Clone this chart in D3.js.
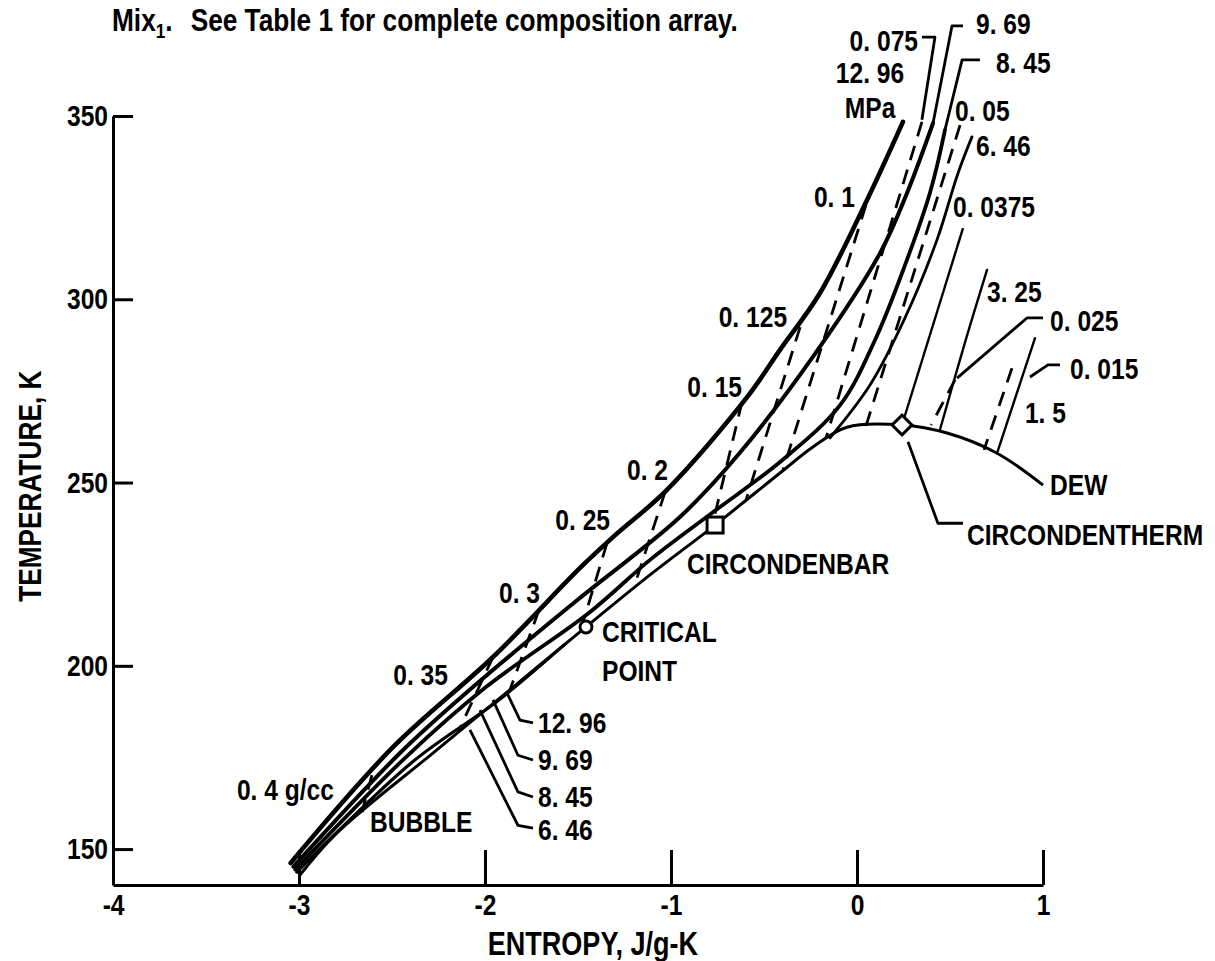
<!DOCTYPE html>
<html>
<head>
<meta charset="utf-8">
<title>Mix1 temperature-entropy diagram</title>
<script src="https://d3js.org/d3.v7.min.js"></script>
<style>
  body { margin: 0; background: #fff; }
  svg text { font-family: "Liberation Sans", Arial, sans-serif; font-weight: bold; font-size: 30px; fill: #000; white-space: pre; }
  svg text:not(.rot) { transform-box: fill-box; transform: scaleX(0.82); }
  .a-start { transform-origin: left center; }
  .a-end { transform-origin: right center; }
  .a-mid { transform-origin: center; }
  .axis path, .axis line { stroke: #000; stroke-width: 3; }
</style>
</head>
<body>
<script>
// axis ticks
var xTicks = [-4, -3, -2, -1, 0, 1]
var yTicks = [150, 200, 250, 300, 350]

// isobars, MPa  [entropy J/g-K, temperature K]
var p1296 = [[-3.045,146.2],[-2.495,177.8],[-1.957,202.4],[-1.489,226.7],[-1.312,235.1],[-1.022,248.0],[-0.591,273.3],[-0.414,286.2],[-0.199,301.7],[0.054,327.1],[0.247,348.4]]
var p969 = [[-3.030,145.2],[-2.457,176.2],[-2.065,194.2],[-1.505,217.9],[-0.952,240.6],[-0.640,257.5],[-0.226,285.1],[0.124,312.6],[0.269,329.0],[0.409,348.1]]
var p845 = [[-3.020,144.4],[-2.425,175.1],[-1.995,194.2],[-1.435,214.7],[-1.113,228.9],[-0.780,241.7],[-0.414,255.6],[-0.091,271.1],[0.097,288.9],[0.258,309.3],[0.392,329.0],[0.473,346.2]]
var p646liq = [[-3.012,143.7],[-2.392,173.7],[-1.925,190.7],[-1.575,205.7]]
var p646vap = [[-0.145,262.2],[0.070,276.6],[0.258,294.9],[0.430,316.2],[0.543,334.4],[0.618,344.3]]
var p325 = [[0.446,264.4],[0.585,289.0],[0.699,308.0]]
var p15 = [[0.753,258.0],[0.957,289.4]]

// phase envelope
var bubble = [[-3.000,142.6],[-2.796,154.4],[-2.280,176.2],[-1.849,194.2],[-1.457,210.6]]
var dew = [[-1.457,210.6],[-1.113,224.8],[-0.763,238.4],[-0.414,252.6],[-0.237,259.7],[-0.054,265.1],[0.242,265.7],[0.484,263.5],[0.753,258.0],[1.0,249.3]]
var critical = [-1.457, 210.6]
var cricondenbar = [-0.763, 238.4]
var cricondentherm = [0.242, 265.7]

// isochores, g/cc
var isochores = [
  [[-2.608,170.2],[-2.661,160.1]],   // 0.4
  [[-1.957,202.4],[-2.145,181.9]],   // 0.35
  [[-1.710,215.2],[-1.866,193.4]],   // 0.3
  [[-1.344,233.5],[-1.473,211.9]],   // 0.25
  [[-1.032,247.4],[-1.199,221.5]],   // 0.2
  [[-0.618,272.0],[-0.780,237.9]],   // 0.15
  [[-0.306,292.4],[-0.597,245.2]],   // 0.125
  [[0.048,325.7],[-0.398,253.4]],    // 0.1
  [[0.349,348.4],[-0.167,262.1]],    // 0.075
  [[0.554,347.5],[0.048,265.4]],     // 0.05
  [[0.527,278.0],[0.398,265.7]],     // 0.025
  [[0.833,281.2],[0.683,258.9]]      // 0.015
]
var iso0375 = [[0.570,319.4],[0.242,265.7]]

// leader lines
var leaders = [
  [[0.349,349.0],[0.419,371.5],[0.349,371.5]],
  [[0.409,348.1],[0.511,374.6],[0.570,374.6]],
  [[0.473,346.2],[0.565,365.3],[0.661,365.3]],
  [[-1.882,192.6],[-1.812,185.2],[-1.742,184.4]],
  [[-1.957,190.7],[-1.823,175.6],[-1.742,174.3]],
  [[-2.027,187.9],[-1.823,165.6],[-1.742,164.2]],
  [[-2.081,182.5],[-1.823,156.5],[-1.742,155.7]],
  [[1.0,294.9],[0.914,294.9],[0.538,278.5]],
  [[1.091,282.1],[1.027,282.1],[0.930,278.8]],
  [[0.274,261.1],[0.435,238.9],[0.570,238.9]]
]

// labels: text, entropy, temperature
var densityLabels = [['0. 4 g/cc',-2.812,166.1],['0. 35',-2.199,197.5],['0. 3',-1.704,220.1],['0. 25',-1.328,239.8],['0. 2',-1.016,253.4],['0. 15',-0.618,276.1],['0. 125',-0.376,295.2],['0. 1',-0.011,327.9],['0. 075',0.328,370.7]]
var rightLabels = [['0. 05',0.527,351.6],['6. 46',0.640,341.8],['0. 0375',0.516,325.2],['3. 25',0.699,302.0],['0. 025',1.038,294.3],['0. 015',1.145,281.2],['1. 5',0.903,269.0],['DEW',1.038,249.3],['CIRCONDENTHERM',0.591,235.9],['CIRCONDENBAR',-0.914,228.0],['CRITICAL',-1.371,209.2],['POINT',-1.371,198.8],['BUBBLE',-2.618,157.4],['9. 69',0.640,375.1],['8. 45',0.747,364.5],['12. 96',-1.715,184.4],['9. 69',-1.715,174.3],['8. 45',-1.715,164.2],['6. 46',-1.715,155.2]]
var centerLabels = [['12. 96',0.070,361.7],['MPa',0.070,352.2]]

var x = d3.scaleLinear().domain([-4, 1]).range([113, 1043])
var y = d3.scaleLinear().domain([140.2, 350]).range([885, 116])

var svg = d3.select('body').append('svg')
    .attr('width', 1215)
    .attr('height', 961)

var smooth = d3.line()
    .x(function (d) { return x(d[0]) })
    .y(function (d) { return y(d[1]) })
    .curve(d3.curveCatmullRom.alpha(0.5))
var straight = d3.line()
    .x(function (d) { return x(d[0]) })
    .y(function (d) { return y(d[1]) })

// title
var title = svg.append('text').attr('class', 'a-start').attr('x', 112).attr('y', 31).style('font-size', '32px')
title.append('tspan').text('Mix')
title.append('tspan').attr('font-size', 21).attr('dy', 7).text('1')
title.append('tspan').attr('dy', -7).text('.')
title.append('tspan').attr('dx', 22).text('See Table 1 for complete composition array.')

// axes
var yG = svg.append('g')
    .attr('class', 'axis')
    .attr('transform', 'translate(' + x(-4) + ',0)')
    .call(d3.axisLeft(y).tickValues(yTicks).tickSize(-20).tickSizeOuter(0).tickPadding(5).tickFormat(function (d) { return String(d) }))
yG.selectAll('text').attr('class', 'a-end')

var xG = svg.append('g')
    .attr('class', 'axis')
    .attr('transform', 'translate(0,' + y(140.2) + ')')
    .call(d3.axisBottom(x).tickValues(xTicks).tickSize(-35).tickSizeOuter(0).tickPadding(9).tickFormat(function (d) { return String(d) }))
xG.selectAll('text').attr('class', 'a-mid')

svg.append('text')
    .attr('class', 'rot')
    .attr('transform', 'translate(30,' + y(249) + ') rotate(-90) scale(0.82,1)')
    .attr('text-anchor', 'middle')
    .attr('dominant-baseline', 'central')
    .style('font-size', '32px')
    .text('TEMPERATURE, K')

svg.append('text')
    .attr('class', 'a-mid')
    .attr('x', x(-1.42)).attr('y', 944)
    .attr('text-anchor', 'middle')
    .attr('dominant-baseline', 'central')
    .style('font-size', '33px')
    .text('ENTROPY, J/g-K')

// isochores (dashed)
svg.selectAll('path.iso')
    .data(isochores)
    .enter()
    .append('path')
    .attr('class', 'iso')
    .attr('d', straight)
    .attr('fill', 'none')
    .attr('stroke', '#000')
    .attr('stroke-width', 2.8)
    .attr('stroke-dasharray', '15,10')

svg.append('path').attr('d', straight(iso0375))
    .attr('fill', 'none').attr('stroke', '#000').attr('stroke-width', 2.4)

// isobars
var isobars = [[p1296, 4.6], [p969, 4], [p845, 3.8], [p646liq, 3.2], [p646vap, 2.8], [p325, 2.4], [p15, 2.4]]
svg.selectAll('path.isobar')
    .data(isobars)
    .enter()
    .append('path')
    .attr('class', 'isobar')
    .attr('d', function (d) { return smooth(d[0]) })
    .attr('fill', 'none')
    .attr('stroke', '#000')
    .attr('stroke-linecap', 'round')
    .attr('stroke-width', function (d) { return d[1] })

// envelope
svg.append('path').attr('d', smooth(bubble))
    .attr('fill', 'none').attr('stroke', '#000').attr('stroke-width', 3)
svg.append('path').attr('d', smooth(dew))
    .attr('fill', 'none').attr('stroke', '#000').attr('stroke-width', 3)

// leaders
svg.selectAll('path.leader')
    .data(leaders)
    .enter()
    .append('path')
    .attr('class', 'leader')
    .attr('d', straight)
    .attr('fill', 'none')
    .attr('stroke', '#000')
    .attr('stroke-width', 2.8)
    .attr('stroke-linejoin', 'round')

// special points
svg.append('circle')
    .attr('cx', x(critical[0])).attr('cy', y(critical[1])).attr('r', 6)
    .attr('fill', '#fff').attr('stroke', '#000').attr('stroke-width', 3)
svg.append('rect')
    .attr('x', x(cricondenbar[0]) - 8).attr('y', y(cricondenbar[1]) - 8)
    .attr('width', 16).attr('height', 16)
    .attr('fill', '#fff').attr('stroke', '#000').attr('stroke-width', 3)
svg.append('rect')
    .attr('x', -7).attr('y', -7).attr('width', 14).attr('height', 14)
    .attr('transform', 'translate(' + x(cricondentherm[0]) + ',' + y(cricondentherm[1]) + ') rotate(45)')
    .attr('fill', '#fff').attr('stroke', '#000').attr('stroke-width', 3)

// labels
function addLabels(list, anchor, cls) {
    svg.selectAll(null)
        .data(list)
        .enter()
        .append('text')
        .attr('class', cls)
        .attr('x', function (d) { return x(d[1]) })
        .attr('y', function (d) { return y(d[2]) })
        .attr('text-anchor', anchor)
        .attr('dominant-baseline', 'central')
        .text(function (d) { return d[0] })
}
addLabels(densityLabels, 'end', 'a-end')
addLabels(rightLabels, 'start', 'a-start')
addLabels(centerLabels, 'middle', 'a-mid')
</script>
</body>
</html>
